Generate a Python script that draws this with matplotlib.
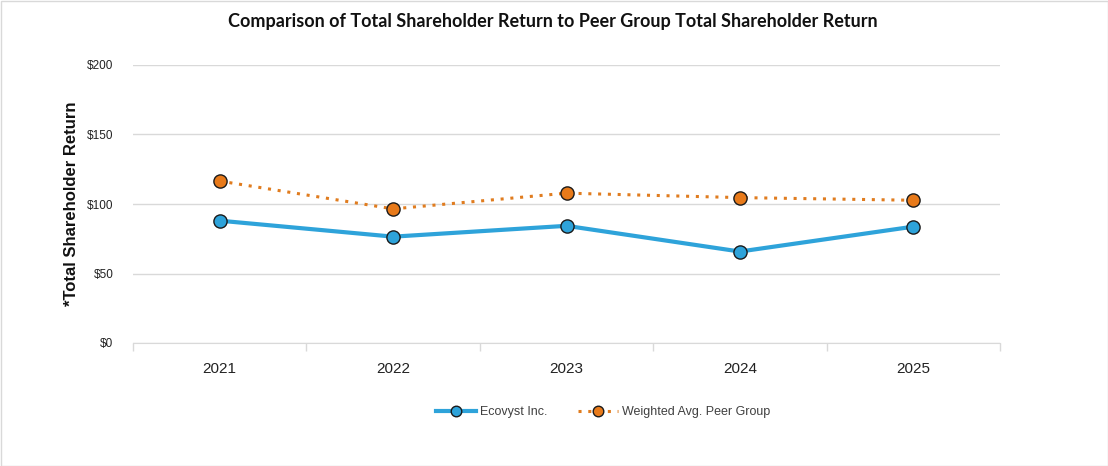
import matplotlib
matplotlib.use("Agg")
import matplotlib.pyplot as plt
from matplotlib.ticker import FuncFormatter, FixedLocator

years = ["2021", "2022", "2023", "2024", "2025"]
ecovyst = [88.0, 76.5, 84.3, 65.8, 83.7]
peer = [116.5, 96.5, 107.8, 104.6, 102.7]

fig = plt.figure(figsize=(11.08, 4.66), dpi=100)
ax = fig.add_axes([133/1108, 1-343/466, (1000-133)/1108, (343-65)/466])

x = list(range(len(years)))
ax.plot(x, ecovyst, color="#2EA3DA", lw=3, marker="o", ms=9.5,
        markerfacecolor="#2EA3DA", markeredgecolor="#1a1a1a", markeredgewidth=1,
        label="Ecovyst Inc.", zorder=3)
ax.plot(x, peer, color="#E07C1F", lw=2.2, ls=(0, (1, 2.2)), marker="o", ms=9.5,
        markerfacecolor="#E87A1A", markeredgecolor="#1a1a1a", markeredgewidth=1,
        label="Weighted Avg. Peer Group", zorder=3)

ax.set_xlim(-0.5, 4.5)
ax.set_ylim(0, 200)
ax.set_yticks([0, 50, 100, 150, 200])
ax.yaxis.set_major_formatter(FuncFormatter(lambda v, p: f"${int(v)}"))
ax.set_xticks(x)
ax.set_xticklabels(years)
ax.xaxis.set_minor_locator(FixedLocator([-0.5, 0.5, 1.5, 2.5, 3.5, 4.5]))
ax.tick_params(axis="x", which="major", length=0, pad=14, labelsize=11, labelcolor="#222222")
ax.tick_params(axis="x", which="minor", length=6, color="#d9d9d9", width=1)
ax.tick_params(axis="y", length=0, pad=14, labelsize=8.5, labelcolor="#222222")
for lab in ax.get_xticklabels() + ax.get_yticklabels():
    lab.set_fontfamily("Liberation Sans")

ax.grid(axis="y", color="#d9d9d9", lw=1)
ax.set_axisbelow(True)
for s in ["top", "right", "left"]:
    ax.spines[s].set_visible(False)
ax.spines["bottom"].set_color("#d9d9d9")

ax.set_ylabel("*Total Shareholder Return", fontsize=12, fontweight="bold",
              family="Liberation Sans", color="#111111", labelpad=6)

fig.text(553/1108, 1-22/466, "Comparison of Total Shareholder Return to Peer Group Total Shareholder Return",
         ha="center", va="center", fontsize=13, fontweight="bold", family="Lato", color="#111111")

leg = fig.legend(loc="center", bbox_to_anchor=(603/1108, 1-412/466), ncol=2, frameon=False,
                 prop={"family": "Liberation Sans", "size": 9}, handlelength=3.2,
                 columnspacing=2.5, handletextpad=0.3, markerscale=0.8)
for t in leg.get_texts():
    t.set_color("#404040")

fig.patches.append(plt.Rectangle((0.5/1108, 0.5/466), 1-1/1108, 1-1/466, transform=fig.transFigure,
                                 fill=False, edgecolor="#d9d9d9", lw=1))

fig.savefig("out.png", dpi=100)
